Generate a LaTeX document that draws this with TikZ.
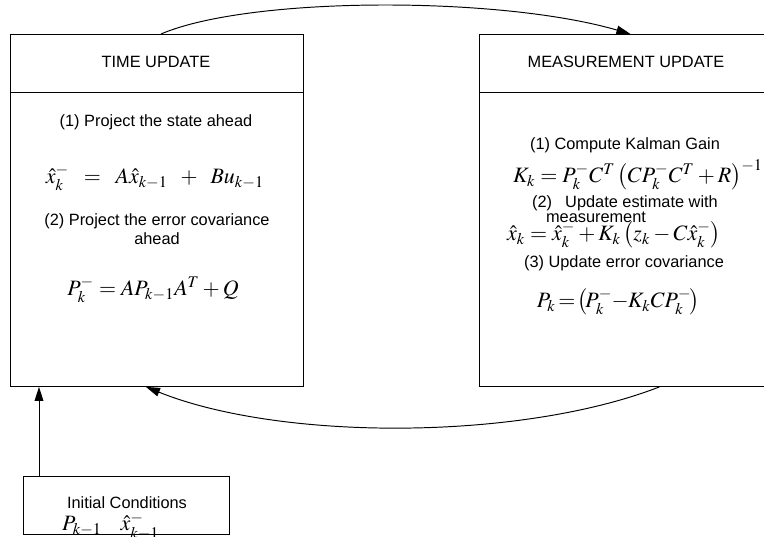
\documentclass[tikz,border=0pt]{standalone}
\usepackage{mathptmx}
\usepackage{fontspec}
\setmainfont{Liberation Sans}
\usetikzlibrary{arrows.meta}

\tikzset{
  box/.style={draw, line width=0.55pt, anchor=north west, inner sep=0pt},
  lbl/.style={font=\fontsize{9.3}{11}\selectfont, align=center, inner sep=0pt},
  eqn/.style={font=\fontsize{12.5}{14}\selectfont, inner sep=0pt},
  flow/.style={line width=0.55pt, -{Triangle[length=8pt,width=5pt]}}
}

\begin{document}
\begin{tikzpicture}[x=0.02cm, y=-0.02cm]
  \useasboundingbox (0,0) rectangle (764,537);

  % the two update boxes
  \node[box, minimum width=5.86cm, minimum height=7.04cm] (tu) at (10,34) {};
  \node[box, minimum width=6.2cm, minimum height=7.04cm] (mu) at (479,34) {};
  \draw[line width=0.55pt] (tu.west |- 0,92) -- (tu.east |- 0,92);
  \draw[line width=0.55pt] (mu.west |- 0,92) -- (mu.east |- 0,92);

  % time update
  \node[lbl] (tutitle) at (156,62) {TIME UPDATE};
  \node[lbl] (tuone) at (156,122) {(1) Project the state ahead};
  \node[eqn] (tueqone) at (155,178) {$\hat{x}_k^- \mkern8mu=\mkern8mu A\hat{x}_{k-1} \mkern8mu+\mkern8mu Bu_{k-1}$};
  \node[lbl] (tutwo) at (157,229) {(2) Project the error covariance\\ahead};
  \node[eqn] (tueqtwo) at (153,290) {$P_k^- = AP_{k-1}A^T + Q$};

  % measurement update
  \node[lbl] (mutitle) at (626,62) {MEASUREMENT UPDATE};
  \node[lbl] (muone) at (625,145) {(1) Compute Kalman Gain};
  \node[eqn] (mueqone) at (638,175) {$K_k = P_k^-C^T\left(CP_k^-C^T + R\right)^{-1}$};
  \node[lbl] (mutwo) at (625,203) {(2)\hspace{0.8em}Update estimate with};
  \node[lbl] (mumeas) at (596,217) {measurement};
  \node[eqn] (mueqtwo) at (614,235) {$\hat{x}_k = \hat{x}_k^- + K_k\left(z_k - C\hat{x}_k^-\right)$};
  \node[lbl] (muthree) at (624,263) {(3) Update error covariance};
  \node[eqn] (mueqthree) at (618,302) {$P_k \mkern-2mu=\mkern-2mu \left(\!P_k^- \mkern-3mu-\mkern-3mu K_kCP_k^-\!\right)$};

  % initial conditions
  \node[box, minimum width=4.12cm, minimum height=1.16cm] (ic) at (23,476) {};
  \node[lbl] (ictitle) at (127,503) {Initial Conditions};
  \node[eqn] (icp) at (82,526) {$P_{k-1}$};
  \node[eqn] (icx) at (140,526) {$\hat{x}_{k-1}^-$};

  % loop
  \draw[flow] ([xshift=0.08cm]tu.north) .. controls (250,-4) and (500,-4) .. ([xshift=-0.08cm]mu.north);
  \draw[flow] ([xshift=0.5cm]mu.south) .. controls (520,441) and (280,441) .. ([xshift=-0.22cm]tu.south);
  \draw[flow] ([xshift=0.32cm]ic.north west) -- ([xshift=0.32cm]ic.north west |- tu.south);
\end{tikzpicture}
\end{document}
